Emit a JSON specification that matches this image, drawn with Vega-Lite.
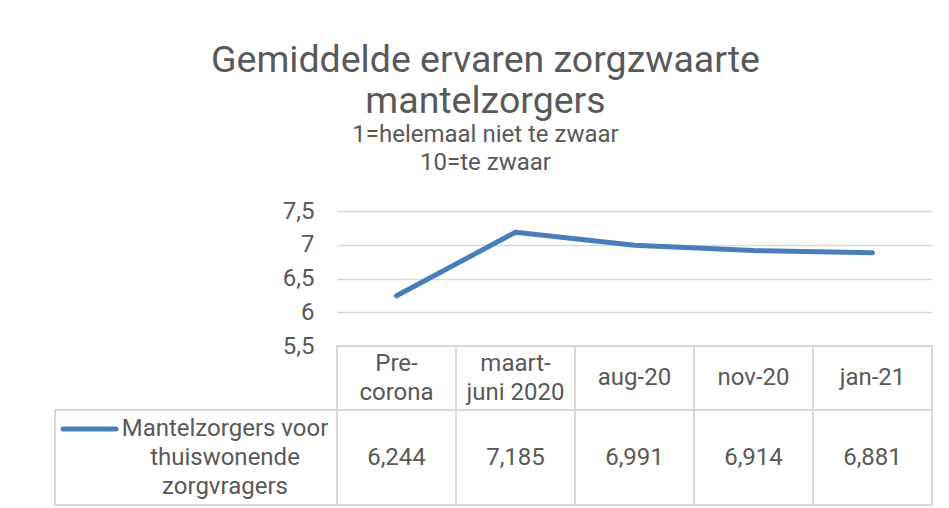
{
  "$schema": "https://vega.github.io/schema/vega-lite/v6.json",
  "background": "white",
  "padding": {"left": 52, "top": 41, "right": 10, "bottom": 0},
  "title": {
    "text": ["Gemiddelde ervaren zorgzwaarte", "mantelzorgers"],
    "subtitle": ["1=helemaal niet te zwaar", "10=te zwaar"],
    "anchor": "middle",
    "font": "Roboto",
    "fontSize": 37.5,
    "fontWeight": "normal",
    "color": "#595959",
    "lineHeight": 41,
    "subtitleFont": "Roboto",
    "subtitleFontSize": 24,
    "subtitleColor": "#595959",
    "subtitleLineHeight": 28,
    "subtitlePadding": 3,
    "offset": 24,
    "dx": -7
  },
  "datasets": {
    "main": [
      {"periode": "Pre-\ncorona", "waarde": 6.244},
      {"periode": "maart-\njuni 2020", "waarde": 7.185},
      {"periode": "aug-20", "waarde": 6.991},
      {"periode": "nov-20", "waarde": 6.914},
      {"periode": "jan-21", "waarde": 6.881}
    ],
    "series": [
      {"reeks": "Mantelzorgers voor\nthuiswonende\nzorgvragers"}
    ]
  },
  "columns": 2,
  "spacing": 0,
  "bounds": "flush",
  "concat": [
    {
      "width": 282,
      "height": 135,
      "data": {"values": [{}]},
      "mark": {"type": "text", "text": ""}
    },
    {
      "width": 595,
      "height": 135,
      "data": {"name": "main"},
      "mark": {"type": "line", "color": "#4a7ebb", "strokeWidth": 5, "strokeCap": "round", "strokeJoin": "round"},
      "encoding": {
        "x": {"field": "periode", "type": "nominal", "sort": null, "scale": {"type": "point", "padding": 0.5}, "axis": null},
        "y": {
          "field": "waarde",
          "type": "quantitative",
          "scale": {"domain": [5.5, 7.5], "zero": false, "nice": false},
          "axis": {
            "values": [5.5, 6, 6.5, 7, 7.5],
            "format": ".1~f",
            "grid": true,
            "gridColor": "#d9d9d9",
            "gridWidth": 1.5,
            "domain": false,
            "ticks": false,
            "title": null,
            "labelPadding": 23,
            "labelFont": "Roboto",
            "labelFontSize": 24,
            "labelColor": "#595959"
          }
        }
      }
    },
    {
      "width": 282,
      "height": 64,
      "data": {"values": [{}]},
      "mark": {"type": "text", "text": ""}
    },
    {
      "width": 595,
      "height": 64,
      "data": {"name": "main"},
      "encoding": {
        "x": {"field": "periode", "type": "nominal", "sort": null, "scale": {"type": "band", "paddingInner": 0, "paddingOuter": 0}, "axis": null}
      },
      "layer": [
        {"mark": {"type": "rect", "fill": "transparent", "stroke": "#d9d9d9", "strokeWidth": 2}},
        {
          "transform": [{"filter": "indexof(datum.periode, '\\n') >= 0"}],
          "mark": {"type": "text", "font": "Roboto", "fontSize": 24, "color": "#595959", "lineBreak": "\n", "lineHeight": 28.5, "baseline": "middle", "align": "center", "dy": -14},
          "encoding": {"text": {"field": "periode"}}
        },
        {
          "transform": [{"filter": "indexof(datum.periode, '\\n') < 0"}],
          "mark": {"type": "text", "font": "Roboto", "fontSize": 24, "color": "#595959", "baseline": "middle", "align": "center"},
          "encoding": {"text": {"field": "periode"}}
        }
      ]
    },
    {
      "width": 282,
      "height": 95,
      "data": {"name": "series"},
      "view": {"stroke": "#d9d9d9", "strokeWidth": 2},
      "layer": [
        {
          "mark": {"type": "point", "shape": "M-1.33,-0.285L-0.80,-0.285", "size": 40000, "filled": false, "stroke": "#4a7ebb", "strokeWidth": 5, "strokeCap": "round", "opacity": 1}
        },
        {
          "mark": {"type": "text", "font": "Roboto", "fontSize": 24, "color": "#595959", "lineBreak": "\n", "lineHeight": 29, "baseline": "middle", "align": "center", "dx": 29, "dy": -29},
          "encoding": {"text": {"field": "reeks"}}
        }
      ]
    },
    {
      "width": 595,
      "height": 95,
      "data": {"name": "main"},
      "encoding": {
        "x": {"field": "periode", "type": "nominal", "sort": null, "scale": {"type": "band", "paddingInner": 0, "paddingOuter": 0}, "axis": null}
      },
      "layer": [
        {"mark": {"type": "rect", "fill": "transparent", "stroke": "#d9d9d9", "strokeWidth": 2}},
        {
          "mark": {"type": "text", "font": "Roboto", "fontSize": 24, "color": "#595959", "baseline": "middle", "align": "center"},
          "encoding": {"text": {"field": "waarde", "type": "quantitative", "format": ".3f"}}
        }
      ]
    }
  ],
  "config": {
    "view": {"stroke": null},
    "font": "Roboto",
    "locale": {
      "number": {"decimal": ",", "thousands": ".", "grouping": [3], "currency": ["€ ", ""]}
    }
  }
}
